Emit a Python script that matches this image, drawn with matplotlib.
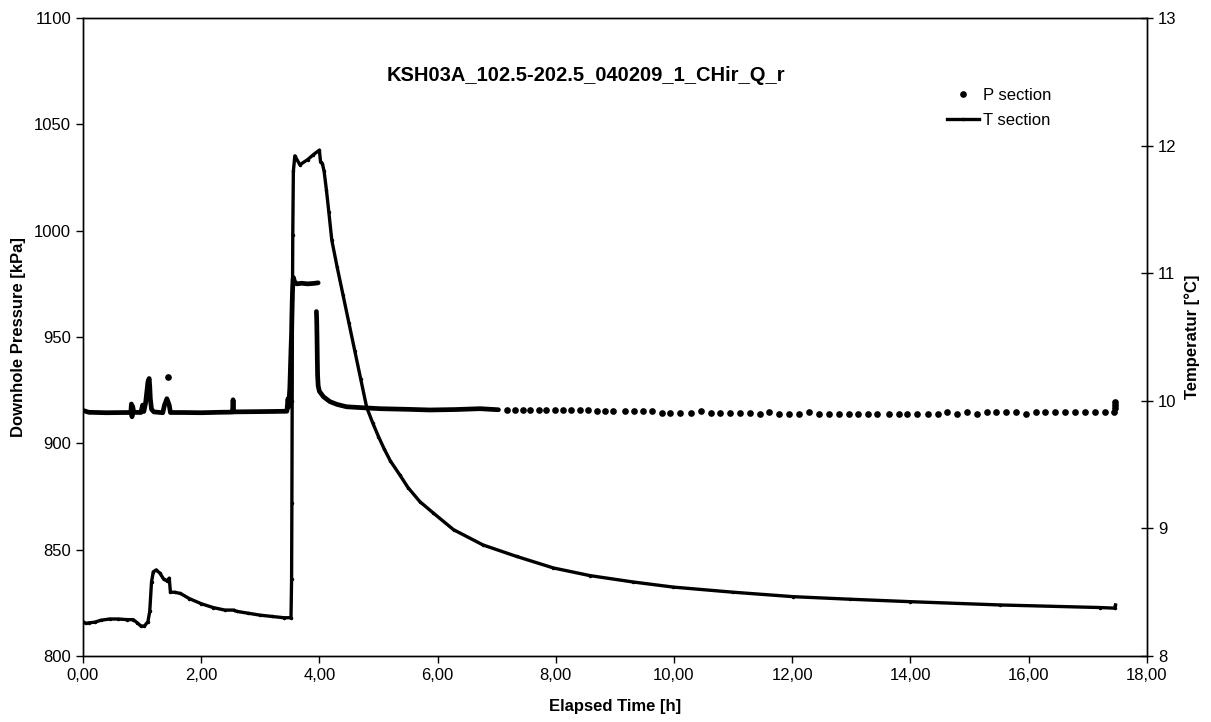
import numpy as np
import matplotlib
matplotlib.use("Agg")
import matplotlib.pyplot as plt
from matplotlib.ticker import FuncFormatter

plt.rcParams['font.family'] = ['Liberation Sans', 'DejaVu Sans']

nan = np.nan

# pressure, dense logging part (drawn as a thick trace), NaN = gap
p_dense_t = [0.00, 0.10, 0.40, 0.70, 0.81, 0.82, 0.83, 0.84, 0.86, 0.98, 1.01, 1.03,
             1.06, 1.08, 1.10, 1.12, 1.13, 1.14, 1.16, 1.20, 1.35, 1.38, 1.42, 1.46,
             1.48, 1.70, 2.00, 2.30, 2.53, 2.54, 2.55, 2.90, 3.20, 3.45, 3.47, 3.48,
             3.50, 3.51, 3.52, 3.53, 3.535, 3.54, 3.545, 3.55, 3.555, 3.56, 3.58, 3.62,
             3.70, 3.80, 3.90, 3.98, nan,
             3.95, 3.955, 3.96, 3.965, 3.97, 3.98, 4.00, 4.07, 4.18, 4.30, 4.46, 4.70,
             5.03, 5.50, 5.87, 6.30, 6.72, 7.03]
p_dense = [915.5, 914.6, 914.4, 914.5, 914.5, 918.5, 912.5, 917.5, 914.6, 914.5, 918.0, 915.0,
           919.0, 924.0, 929.0, 930.5, 927.0, 921.0, 916.0, 914.8, 914.4, 918.0, 921.0, 918.0,
           914.5, 914.5, 914.4, 914.6, 914.7, 920.5, 914.8, 914.9, 915.0, 915.1, 921.0, 917.0,
           926.0, 935.0, 944.0, 952.0, 960.0, 966.0, 971.0, 974.0, 977.0, 978.0, 976.0, 975.0,
           975.3, 975.0, 975.2, 975.5, nan,
           962.0, 958.0, 950.0, 940.0, 932.0, 927.0, 924.5, 921.9, 919.6, 918.3, 917.2, 916.8,
           916.3, 916.0, 915.7, 915.9, 916.3, 915.8]

# single stray reading
p_single_t = [1.44]
p_single = [931.0]

# pressure, sparse logging after ~7 h
p_tail_t = [7.17, 7.31, 7.44, 7.57, 7.71, 7.84, 7.98, 8.12, 8.25, 8.41, 8.55, 8.69, 8.84, 8.97,
            9.17, 9.32, 9.47, 9.62, 9.79, 9.94, 10.11, 10.28, 10.45, 10.62, 10.78, 10.95,
            11.12, 11.29, 11.45, 11.61, 11.78, 11.95, 12.12, 12.28, 12.45, 12.62, 12.79,
            12.96, 13.11, 13.28, 13.44, 13.63, 13.80, 13.95, 14.12, 14.29, 14.46, 14.62,
            14.78, 14.95, 15.12, 15.29, 15.45, 15.62, 15.79, 15.96, 16.13, 16.28, 16.45,
            16.62, 16.79, 16.96, 17.12, 17.29, 17.45, 17.46, 17.46, 17.47]
p_tail = [915.7, 915.7, 915.6, 915.6, 915.7, 915.6, 915.6, 915.5, 915.6, 915.5, 915.5, 915.4,
          915.4, 915.3,
          915.2, 915.2, 915.2, 915.2, 914.1, 914.1, 914.1, 914.1, 915.2, 914.1, 914.1, 914.1,
          914.1, 914.1, 913.6, 914.6, 913.6, 913.6, 913.6, 914.6, 913.6, 913.6, 913.6,
          913.6, 913.6, 913.6, 913.6, 913.6, 913.6, 913.6, 913.6, 913.6, 913.6, 914.6,
          913.6, 914.6, 913.6, 914.6, 914.6, 914.6, 914.6, 913.6, 914.6, 914.6, 914.6,
          914.6, 914.6, 914.6, 914.6, 914.6, 914.6, 916.5, 918.0, 919.6]

# temperature [°C]
temp_t = [0.00, 0.05, 0.10, 0.20, 0.30, 0.45, 0.60, 0.75, 0.85, 0.92, 0.98, 1.04, 1.10,
          1.13, 1.16, 1.19, 1.24, 1.30, 1.37, 1.42, 1.46, 1.48, 1.55, 1.65, 1.80, 2.00,
          2.20, 2.40, 2.55, 2.60, 2.80, 3.00, 3.20, 3.40, 3.52, 3.53, 3.535, 3.54, 3.545,
          3.55, 3.56, 3.585, 3.67, 3.80, 3.90, 4.00, 4.02, 4.05, 4.08, 4.12, 4.16, 4.21,
          4.30, 4.40, 4.50, 4.60, 4.70, 4.80, 4.90, 5.00, 5.10, 5.20, 5.36, 5.50, 5.70,
          5.93, 6.27, 6.77, 7.34, 7.96, 8.58, 9.31, 9.99, 11.00, 12.02, 12.98, 13.99,
          15.52, 17.20, 17.46, 17.47]
temp = [8.27, 8.255, 8.26, 8.265, 8.28, 8.29, 8.29, 8.285, 8.285, 8.26, 8.235, 8.235, 8.27,
        8.35, 8.58, 8.66, 8.675, 8.65, 8.60, 8.59, 8.61, 8.50, 8.50, 8.49, 8.45, 8.41,
        8.38, 8.36, 8.36, 8.35, 8.335, 8.32, 8.31, 8.30, 8.30, 8.60, 9.20, 10.00, 10.80,
        11.30, 11.80, 11.92, 11.85, 11.89, 11.93, 11.965, 11.87, 11.86, 11.80, 11.65, 11.48, 11.26,
        11.05, 10.83, 10.61, 10.39, 10.17, 9.95, 9.83, 9.72, 9.62, 9.53, 9.42, 9.32, 9.21,
        9.12, 8.99, 8.87, 8.78, 8.69, 8.63, 8.58, 8.54, 8.50, 8.465, 8.445, 8.426,
        8.40, 8.38, 8.375, 8.40]

x_ticks = np.arange(0, 19, 2)
p_ticks = [800, 850, 900, 950, 1000, 1050, 1100]
t_ticks = [8, 9, 10, 11, 12, 13]

fig = plt.figure(figsize=(12.11, 7.22), dpi=100)
ax = fig.add_axes([0.0685, 0.0914, 0.8785, 0.8836])
ax2 = ax.twinx()

ax.plot(p_dense_t, p_dense, color='black', lw=3.4, solid_capstyle='round',
        solid_joinstyle='round', zorder=3)
ax.plot(p_single_t, p_single, 'o', color='black', ms=3.8, zorder=3)
ax.plot(p_tail_t, p_tail, 'o', color='black', ms=3.8, zorder=3, label='P section')

ax2.plot(temp_t, temp, color='black', lw=2.4, marker='.', ms=3,
         solid_joinstyle='round', label='T section')

ax.set_xlim(0, 18)
ax.set_ylim(800, 1100)
ax2.set_ylim(8, 13)
ax.set_xticks(x_ticks)
ax.set_yticks(p_ticks)
ax2.set_yticks(t_ticks)
ax.xaxis.set_major_formatter(FuncFormatter(lambda v, pos: f"{v:.2f}".replace('.', ',')))

for a in (ax, ax2):
    for s in a.spines.values():
        s.set_linewidth(1.0)
        s.set_color('black')
ax.tick_params(axis='both', direction='out', length=5, width=1, labelsize=12)
ax2.tick_params(axis='y', direction='inout', length=9, width=1, labelsize=12)

ax.set_xlabel('Elapsed Time [h]', fontsize=12, fontweight='bold', labelpad=12)
ax.set_ylabel('Downhole Pressure [kPa]', fontsize=12, fontweight='bold', labelpad=6)
ax2.set_ylabel('Temperatur [°C]', fontsize=12, fontweight='bold', labelpad=6)

fig.text(0.484, 0.896, 'KSH03A_102.5-202.5_040209_1_CHir_Q_r', ha='center', va='center',
         fontsize=14.5, fontweight='bold')

h1, l1 = ax.get_legend_handles_labels()
h2, l2 = ax2.get_legend_handles_labels()
fig.legend(h1 + h2, l1 + l2, loc='upper left', bbox_to_anchor=(0.782, 0.878),
           frameon=False, fontsize=12, handlelength=1.9, handletextpad=0.25,
           labelspacing=0.6, borderpad=0, borderaxespad=0, markerscale=1.0)

fig.savefig('out.png', dpi=100)
